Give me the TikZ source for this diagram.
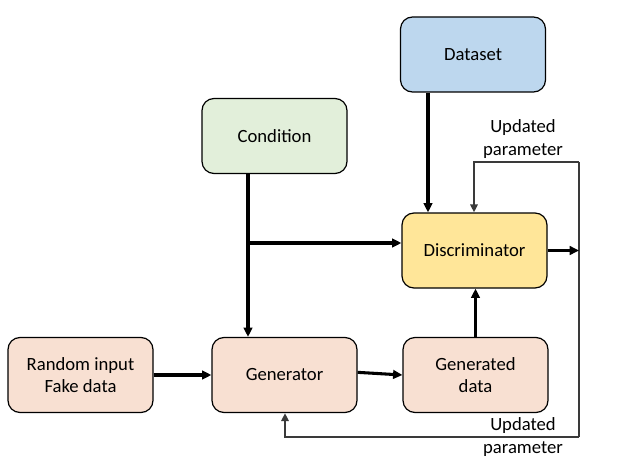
\documentclass[tikz,border=0pt]{standalone}
\usepackage{fontspec}
\setmainfont{Carlito}
\usetikzlibrary{arrows.meta}
\definecolor{dsblue}{HTML}{BDD7EE}
\definecolor{cgreen}{HTML}{E2EFDA}
\definecolor{dyellow}{HTML}{FFE699}
\definecolor{gpink}{HTML}{F8E0D2}
\definecolor{updgray}{HTML}{3A3A3A}
\tikzset{
  box/.style={draw=black, line width=0.9pt, rounded corners=9pt, minimum width=108.75pt, minimum height=56.25pt, align=center, font=\fontsize{14}{17}\selectfont, inner sep=2pt},
  arr/.style={draw=black, line width=2.3pt, -{Triangle[length=7pt,width=6.5pt]}},
  upd/.style={draw=updgray, line width=1.6pt},
  updarr/.style={upd, -{Triangle[length=6pt,width=5.5pt]}},
  lbl/.style={align=center, font=\fontsize{14}{17.5}\selectfont, inner sep=0pt}
}
\begin{document}
\begin{tikzpicture}[x=0.75pt,y=-0.75pt]
\useasboundingbox (0,0) rectangle (627,463);
\node[box, fill=dsblue] (dataset) at (473,54.5) {Dataset};
\node[box, fill=cgreen] (cond) at (274.5,136) {Condition};
\node[box, fill=dyellow] (disc) at (474.5,250.5) {Discriminator};
\node[box, fill=gpink] (rand) at (80.5,375) {Random input\\Fake data};
\node[box, fill=gpink] (gen) at (284.5,375) {Generator};
\node[box, fill=gpink] (gdata) at (475.5,375) {Generated\\data};
\coordinate (dsx) at (428,0);
\coordinate (upR) at (579,162);
\coordinate (upL) at (474,162);
\coordinate (botR) at (579,437);
\coordinate (botL) at (285,437);
\coordinate (cx) at (248,243);
\draw[arr] (dataset.south -| dsx) -- (disc.north -| dsx);
\draw[updarr] (upR) -- (upL) -- (disc.north -| upL);
\draw[upd] (upR) -- (botR);
\draw[updarr] (botR) -- (botL) -- (gen.south -| botL);
\draw[arr] (disc.east) -- (disc.east -| upR);
\draw[arr] (cond.south -| cx) -- (gen.north -| cx);
\draw[arr] (cx) -- (disc.west |- cx);
\draw[arr] (rand.east) -- (gen.west);
\draw[arr] ([yshift=2pt]gen.east) -- (gdata.west);
\draw[arr] (gdata.north) -- (disc.south -| gdata.north);
\node[lbl] (lab1) at (523,139) {Updated\\parameter};
\node[lbl] (lab2) at (523,437) {Updated\\parameter};
\end{tikzpicture}
\end{document}
